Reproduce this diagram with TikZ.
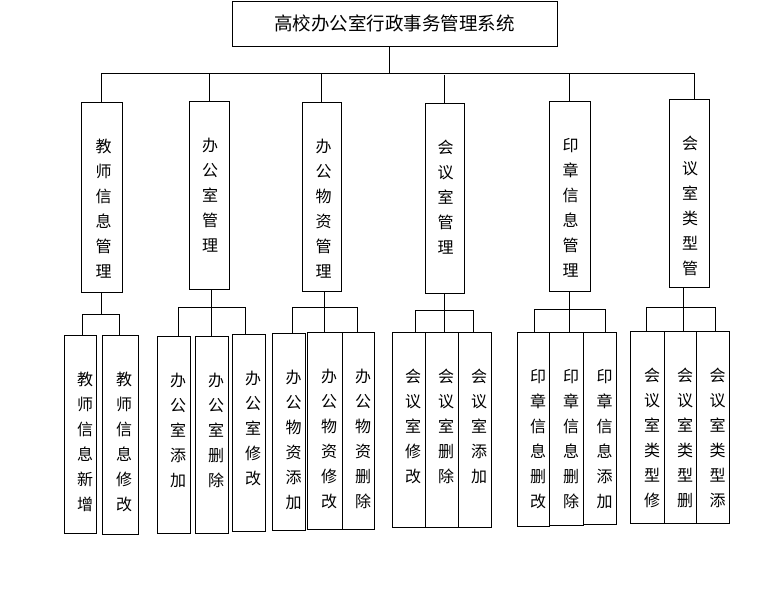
\documentclass[tikz,border=0pt]{standalone}
\usepackage{fontspec}
\newfontfamily\hei{Noto Sans CJK SC}
\usetikzlibrary{positioning}

\begin{document}
\begin{tikzpicture}[x=1pt, y=-1pt, line width=0.9pt,
    box/.style={draw, inner sep=0pt},
    vt/.style={font=\hei\fontsize{16}{25}\selectfont, align=center, inner sep=0pt}]
  \useasboundingbox (0,0) rectangle (772,589);
  % top box
  \node[box, minimum width=325, minimum height=45, font=\hei\fontsize{18.5}{22}\selectfont] (sys) at (394.5,23.5) {高校办公室行政事务管理系统};

  % second row
  \node[box, minimum width=41, minimum height=190] (jsgl) at (101.5,197) {};
  \node[box, minimum width=40, minimum height=188] (bgsgl) at (209,195) {};
  \node[box, minimum width=39, minimum height=189] (bgwz) at (321.5,196.5) {};
  \node[box, minimum width=39, minimum height=190] (hysgl) at (444.5,198) {};
  \node[box, minimum width=41, minimum height=190] (yzgl) at (569.5,196) {};
  \node[box, minimum width=40, minimum height=188] (hyslx) at (689,193) {};
  \node[vt, below=37.5pt of jsgl.north, xshift=2pt] (jsgl-t) {教\\师\\信\\息\\管\\理};
  \node[vt, below=37.5pt of bgsgl.north, xshift=1pt] (bgsgl-t) {办\\公\\室\\管\\理};
  \node[vt, below=37.5pt of bgwz.north, xshift=2pt] (bgwz-t) {办\\公\\物\\资\\管\\理};
  \node[vt, below=37.5pt of hysgl.north, xshift=1pt] (hysgl-t) {会\\议\\室\\管\\理};
  \node[vt, below=37.5pt of yzgl.north, xshift=1pt] (yzgl-t) {印\\章\\信\\息\\管\\理};
  \node[vt, below=37.5pt of hyslx.north, xshift=1pt] (hyslx-t) {会\\议\\室\\类\\型\\管};

  % third row
  \node[box, minimum width=32, minimum height=198] (jsxz) at (80,434) {};
  \node[box, minimum width=36, minimum height=199] (jsxg) at (120,434.5) {};
  \node[box, minimum width=33, minimum height=197] (bgstj) at (173.5,434.5) {};
  \node[box, minimum width=33, minimum height=197] (bgssc) at (211.5,434.5) {};
  \node[box, minimum width=33, minimum height=197] (bgsxg) at (248.5,432.5) {};
  \node[box, minimum width=33, minimum height=197] (wztj) at (288.5,431.5) {};
  \node[box, minimum width=35, minimum height=197] (wzxg) at (324.5,430.5) {};
  \node[box, minimum width=32, minimum height=197] (wzsc) at (358,430.5) {};
  \node[box, minimum width=33, minimum height=195] (hysxg) at (408.5,429.5) {};
  \node[box, minimum width=33, minimum height=195] (hyssc) at (441.5,429.5) {};
  \node[box, minimum width=33, minimum height=195] (hystj) at (474.5,429.5) {};
  \node[box, minimum width=32, minimum height=194] (yzsg) at (533,429) {};
  \node[box, minimum width=34, minimum height=193] (yzsc) at (566,428.5) {};
  \node[box, minimum width=33, minimum height=192] (yztj) at (599.5,428) {};
  \node[box, minimum width=34, minimum height=192] (lxxg) at (647,427) {};
  \node[box, minimum width=32, minimum height=192] (lxsc) at (680,427) {};
  \node[box, minimum width=33, minimum height=192] (lxtj) at (712.5,427) {};
  \node[vt, below=37.5pt of jsxz.north, xshift=5pt] (jsxz-t) {教\\师\\信\\息\\新\\增};
  \node[vt, below=37.5pt of jsxg.north, xshift=4pt] (jsxg-t) {教\\师\\信\\息\\修\\改};
  \node[vt, below=37.5pt of bgstj.north, xshift=4.5pt] (bgstj-t) {办\\公\\室\\添\\加};
  \node[vt, below=37.5pt of bgssc.north, xshift=4.5pt] (bgssc-t) {办\\公\\室\\删\\除};
  \node[vt, below=37.5pt of bgsxg.north, xshift=4.5pt] (bgsxg-t) {办\\公\\室\\修\\改};
  \node[vt, below=37.5pt of wztj.north, xshift=5pt] (wztj-t) {办\\公\\物\\资\\添\\加};
  \node[vt, below=37.5pt of wzxg.north, xshift=4.5pt] (wzxg-t) {办\\公\\物\\资\\修\\改};
  \node[vt, below=37.5pt of wzsc.north, xshift=5pt] (wzsc-t) {办\\公\\物\\资\\删\\除};
  \node[vt, below=37.5pt of hysxg.north, xshift=4.5pt] (hysxg-t) {会\\议\\室\\修\\改};
  \node[vt, below=37.5pt of hyssc.north, xshift=4.5pt] (hyssc-t) {会\\议\\室\\删\\除};
  \node[vt, below=37.5pt of hystj.north, xshift=4.5pt] (hystj-t) {会\\议\\室\\添\\加};
  \node[vt, below=37.5pt of yzsg.north, xshift=5pt] (yzsg-t) {印\\章\\信\\息\\删\\改};
  \node[vt, below=37.5pt of yzsc.north, xshift=5pt] (yzsc-t) {印\\章\\信\\息\\删\\除};
  \node[vt, below=37.5pt of yztj.north, xshift=5pt] (yztj-t) {印\\章\\信\\息\\添\\加};
  \node[vt, below=37.5pt of lxxg.north, xshift=5pt] (lxxg-t) {会\\议\\室\\类\\型\\修};
  \node[vt, below=37.5pt of lxsc.north, xshift=5pt] (lxsc-t) {会\\议\\室\\类\\型\\删};
  \node[vt, below=37.5pt of lxtj.north, xshift=5pt] (lxtj-t) {会\\议\\室\\类\\型\\添};

  % top bus
  \coordinate (bus) at (389,73);
  \draw (bus -| sys.south) ++(-5.5,-27) -- (bus);
  \draw (jsgl.north) |- ([xshift=6pt]hyslx.north |- bus);
  \draw (bgsgl.north) -- (bgsgl.north |- bus);
  \draw (bgwz.north) -- (bgwz.north |- bus);
  \draw (hysgl.north) -- ++(0,-28);
  \draw (yzgl.north) -- (yzgl.north |- bus);
  \draw ([xshift=5pt]hyslx.north) -- ([xshift=5pt]hyslx.north |- bus);

  % second level bars
  \coordinate (b1l) at (82,314);  \coordinate (b1r) at (119,314);
  \coordinate (b2l) at (178,307); \coordinate (b2r) at (245,307);
  \coordinate (b3l) at (292,307); \coordinate (b3r) at (357,307);
  \coordinate (b4l) at (415,310); \coordinate (b4r) at (473,310);
  \coordinate (b5l) at (534,309); \coordinate (b5r) at (605,309);
  \coordinate (b6l) at (646,307); \coordinate (b6r) at (715,307);
  \draw (jsgl.south) -- (jsgl.south |- b1l);
  \draw (b1l |- jsxz.north) -- (b1l) -- (b1r) -- (b1r |- jsxg.north);
  \draw (bgssc.north) -- (bgssc.north |- bgsgl.south);
  \draw (b2l |- bgstj.north) -- (b2l) -- (b2r) -- (b2r |- bgsxg.north);
  \draw (wzxg.north) -- (wzxg.north |- bgwz.south);
  \draw (b3l |- wztj.north) -- (b3l) -- (b3r) -- (b3r |- wzsc.north);
  \draw (hysgl.south) -- (hysgl.south |- hyssc.north);
  \draw (b4l |- hysxg.north) -- (b4l) -- (b4r) -- (b4r |- hystj.north);
  \draw (yzgl.south) -- (yzgl.south |- yzsc.north);
  \draw (b5l |- yzsg.north) -- (b5l) -- (b5r) -- (b5r |- yztj.north);
  \draw ([xshift=3pt]lxsc.north) -- ([xshift=3pt]lxsc.north |- hyslx.south);
  \draw (b6l |- lxxg.north) -- (b6l) -- (b6r) -- (b6r |- lxtj.north);
\end{tikzpicture}
\end{document}
